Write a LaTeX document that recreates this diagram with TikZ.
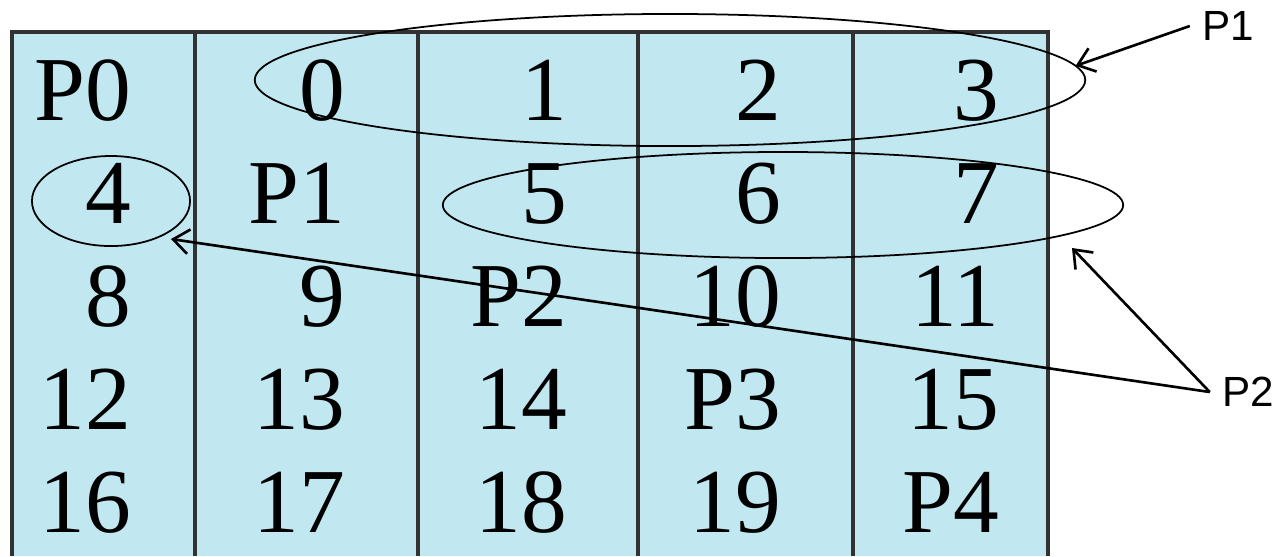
\documentclass[tikz,border=0pt]{standalone}
\usepackage{fontspec}
\setmainfont{Liberation Serif}
\newfontfamily\labelfont{Liberation Sans}
\usepackage{tikz}
\usetikzlibrary{arrows.meta, positioning, shapes.geometric}
\definecolor{cellblue}{RGB}{193,231,241}
\definecolor{gridcol}{RGB}{50,50,50}
\tikzset{
  cell/.style={anchor=base east, inner sep=0pt,
    font=\fontsize{26}{30}\selectfont},
  grp/.style={ellipse, draw=black, line width=0.5pt,
    inner sep=0pt, outer sep=0pt},
  lbl/.style={font=\labelfont\fontsize{12}{14}\selectfont},
  callout/.style={-{Straight Barb[length=4.5pt,width=7pt]}, line width=0.75pt},
  gridline/.style={draw=gridcol, line width=0.9pt},
}

\begin{document}
\begin{tikzpicture}[x=0.01cm, y=-0.01cm]
  \useasboundingbox (0,0) rectangle (1284,556);

  % Table background
  \fill[cellblue] (12,32) rectangle (1048,556);

  % Outer frame (open at the bottom) and column separators
  \draw[gridline, line width=1.1pt] (12,556) -- (12,32) -- (1048,32) -- (1048,556);
  \foreach \x in {195,418,638,853}
    \draw[gridline] (\x,32) -- (\x,556);

  % Cell entries, right-aligned on a common baseline
  \foreach \row [count=\r] in {{P0,0,1,2,3},{4,P1,5,6,7},{8,9,P2,10,11},
                              {12,13,14,P3,15},{16,17,18,19,P4}}
    \foreach \txt [count=\c] in \row {
      \pgfmathsetmacro\xr{{132,346,568,782,1000}[\c-1]}
      \node[cell] (cell-\r-\c) at (\xr, 17+103*\r) {\txt};
    }

  % Groups
  \node[grp, minimum width=8.3cm, minimum height=1.32cm] (grp1) at (670,80) {};
  \node[grp, minimum width=6.8cm, minimum height=1.06cm] (grp2) at (783,205) {};
  \node[grp, minimum width=1.58cm, minimum height=0.9cm] (grp4) at (111,201) {};

  % Labels
  \node[lbl] (lblP1) at (1228,26) {P1};
  \node[lbl] (lblP2) at (1248,392) {P2};

  % Arrows
  \coordinate (tip2) at (1072,248);
  \coordinate (tip4) at (171,239);
  \draw[callout] (lblP1.west) -- (grp1.2);
  \draw[callout] (lblP2.west) -- (tip2);
  \draw[callout] (lblP2.west) -- (tip4);
\end{tikzpicture}
\end{document}
